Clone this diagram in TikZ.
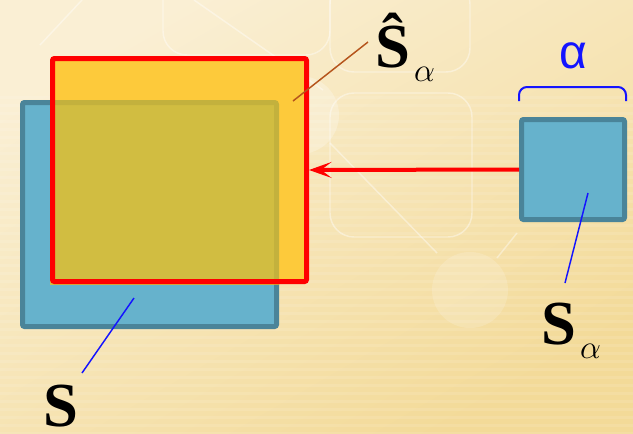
\documentclass[tikz,border=0pt]{standalone}
\usepackage{fontspec}
\usetikzlibrary{arrows.meta, positioning}
\newfontfamily\labelfont{Liberation Serif}
\newfontfamily\sansfont{Liberation Sans}
\newcommand{\subsize}{\fontsize{28}{28}\selectfont}
\definecolor{bgtop}{HTML}{FAEFD4}
\definecolor{bgbot}{HTML}{F3DA98}
\definecolor{boxblue}{HTML}{66B2CC}
\definecolor{boxedge}{HTML}{4A8499}
\definecolor{hatyellow}{HTML}{FDCA3B}
\definecolor{overlap}{HTML}{D1BD41}
\definecolor{overedge}{HTML}{C3B13D}
\definecolor{leadbrown}{HTML}{B5541C}
\definecolor{markblue}{HTML}{1414FF}

\begin{document}
\begin{tikzpicture}[x=0.75pt, y=-0.75pt,
    sq/.style    = {rectangle, inner sep=0pt, line width=3.75pt, rounded corners=1.5pt},
    bluesq/.style= {sq, draw=boxedge, fill=boxblue},
    lbl/.style   = {inner sep=0pt, anchor=base west,
                    font=\labelfont\bfseries\fontsize{47}{47}\selectfont},
    lead/.style  = {line width=1.1pt},
    deco/.style  = {draw=white, opacity=0.4, line width=1.1pt},
    redarr/.style= {{Stealth[length=17pt, width=12pt, inset=8pt]}-, red, line width=3pt}
  ]
  \useasboundingbox (0,0) rectangle (633,433);

  % Background
  \shade[top color=bgtop, bottom color=bgbot, shading angle=30] (0,0) rectangle (633,433);
  \foreach \yy in {96,104,...,432}
    \fill[white, opacity=0.10] (0,\yy) rectangle (633,\yy+3);
  \draw[deco, rounded corners=18pt] (330,-20) rectangle (470,72);
  \draw[deco, rounded corners=18pt] (330,93) rectangle (472,237);
  \draw[deco, rounded corners=18pt] (163,-30) rectangle (330,55);
  \draw[deco] (40,45) -- (82,0);
  \draw[deco] (194,0) -- (323,90);
  \draw[deco] (330,143) -- (437,253);
  \draw[deco] (517,233) -- (497,258);
  \fill[white, opacity=0.25] (300,115) circle (39);
  \fill[white, opacity=0.16] (470,290) circle (38);

  % Boxes
  \node[bluesq, minimum width=190.5pt, minimum height=168pt] (bigS) at (149.5,214.5) {};
  \node[sq, fill=hatyellow, minimum width=190.5pt, minimum height=167.25pt] (hatS) at (179.5,170) {};
  \begin{scope}
    \clip (hatS.north west) rectangle (hatS.south east);
    \node[sq, draw=overedge, fill=overlap, minimum width=190.5pt, minimum height=168pt] at (bigS) {};
  \end{scope}
  \node[sq, draw=red, minimum width=190.5pt, minimum height=167.25pt] (hatEdge) at (hatS) {};
  \node[bluesq, minimum width=77.25pt, minimum height=75pt] (smallS) at (573,169.5) {};

  % Arrow and brace
  \draw[redarr] (hatEdge.east) -- (smallS.west);
  \draw[markblue, line width=1.5pt, rounded corners=6pt]
    ([yshift=12pt]smallS.north west) -- ++(0,-14) -- ++(107,0) -- ++(0,14);
  \node[text=markblue, inner sep=0pt, font=\sansfont\fontsize{36}{36}\selectfont] (alpha) at (573,55.5) {α};

  % Labels
  \node[lbl] (lblHat) at (375,67) {Ŝ\hspace{3pt}\raisebox{-11pt}{\subsize$\alpha$}};
  \node[lbl] (lblSmall) at (541,344) {S\hspace{3pt}\raisebox{-10.5pt}{\subsize$\alpha$}};
  \node[lbl] (lblBig) at (43,426) {S};

  % Leaders
  \draw[lead, leadbrown] ([shift={(113.5,-69)}]hatS.center) -- ([shift={(-7,-25)}]lblHat.base west);
  \draw[lead, markblue]  ([shift={(15,23.5)}]smallS.center) -- ([shift={(24,-61)}]lblSmall.base west);
  \draw[lead, markblue]  ([shift={(-15.5,83.5)}]bigS.center) -- ([shift={(39,-53)}]lblBig.base west);
\end{tikzpicture}
\end{document}
